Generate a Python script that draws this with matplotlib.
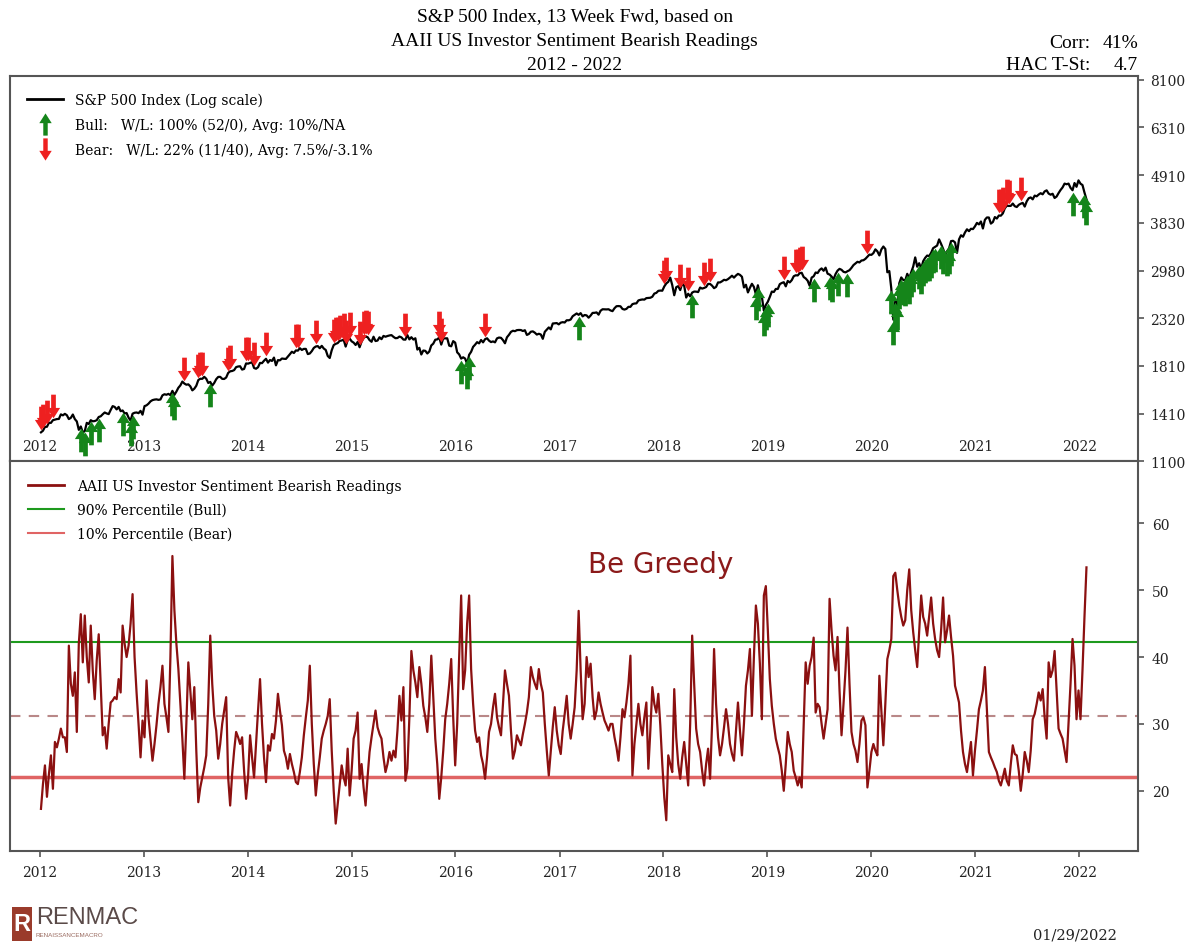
import numpy as np
import pandas as pd
import matplotlib
matplotlib.use('Agg')
import matplotlib.pyplot as plt
from matplotlib.path import Path
from matplotlib.lines import Line2D
from matplotlib.patches import Rectangle
from matplotlib.ticker import NullLocator

# Weekly AAII bearish readings (%), Jan 2012 - Jan 2022
bearish = [
    17.3, 21.0, 23.8, 19.1, 22.5, 25.3, 20.3, 27.3, 26.5, 27.8,
    29.3, 28.0, 28.0, 25.8, 41.7, 36.0, 34.2, 37.7, 28.8, 42.0,
    46.4, 39.2, 46.2, 40.0, 36.2, 44.7, 38.0, 33.7, 39.5, 43.4,
    36.0, 28.3, 29.5, 26.3, 30.0, 33.2, 33.5, 34.0, 33.7, 36.7,
    34.7, 44.7, 42.0, 40.0, 41.7, 45.0, 49.4, 40.0, 34.7, 30.0,
    25.0, 30.5, 28.0, 36.5, 31.0, 27.8, 24.5, 27.0, 29.8, 33.0,
    35.5, 38.7, 33.0, 31.0, 28.8, 40.0, 55.1, 47.0, 42.0, 38.2,
    33.0, 27.8, 21.8, 30.0, 39.2, 35.0, 30.7, 35.5, 26.0, 18.3,
    20.5, 22.0, 23.5, 25.3, 33.0, 43.2, 36.0, 31.2, 29.0, 24.8,
    27.0, 30.0, 32.0, 34.0, 22.0, 17.8, 22.5, 26.0, 28.8, 28.0,
    27.0, 28.0, 23.0, 18.8, 22.0, 28.3, 25.0, 22.0, 27.0, 32.0,
    36.7, 30.0, 25.0, 21.3, 26.8, 26.0, 28.5, 27.8, 30.5, 34.5,
    32.0, 29.8, 26.0, 25.0, 23.3, 25.5, 24.0, 22.8, 21.3, 21.0,
    22.8, 25.0, 28.3, 31.0, 33.5, 38.7, 30.0, 24.0, 19.3, 22.5,
    25.0, 27.8, 29.0, 30.0, 31.2, 33.7, 26.0, 20.0, 15.1, 18.0,
    21.0, 23.8, 22.0, 20.8, 26.3, 19.3, 23.0, 27.8, 29.0, 31.7,
    21.8, 24.0, 20.5, 17.8, 22.0, 25.8, 28.0, 30.0, 32.0, 29.5,
    28.5, 27.8, 25.0, 22.8, 24.0, 25.8, 24.5, 26.0, 25.0, 29.0,
    34.2, 30.5, 35.5, 21.5, 23.3, 31.0, 40.9, 38.0, 36.2, 34.0,
    38.5, 36.0, 32.7, 31.0, 28.8, 33.0, 40.2, 34.0, 27.8, 24.0,
    18.8, 22.0, 26.0, 30.7, 33.0, 36.0, 39.7, 31.0, 23.8, 30.0,
    40.0, 49.2, 35.2, 38.0, 45.0, 49.2, 38.2, 33.0, 29.0, 27.3,
    28.0, 25.3, 24.0, 21.8, 25.0, 28.8, 30.0, 32.5, 34.5, 31.0,
    29.5, 28.3, 33.0, 38.0, 36.0, 34.2, 29.0, 24.8, 26.0, 28.3,
    27.5, 26.8, 28.5, 30.0, 31.7, 34.0, 38.5, 37.0, 36.0, 35.2,
    38.2, 36.0, 34.7, 30.0, 26.0, 22.3, 26.0, 29.5, 32.5, 29.0,
    26.8, 25.5, 29.0, 31.5, 34.2, 30.0, 27.8, 30.0, 32.5, 38.0,
    46.9, 38.0, 30.7, 33.0, 40.0, 37.0, 39.0, 34.0, 30.7, 32.0,
    34.7, 33.0, 31.7, 30.5, 29.8, 29.0, 30.0, 30.0, 28.0, 26.5,
    24.5, 28.0, 32.2, 31.0, 33.2, 36.0, 40.2, 22.3, 27.0, 30.0,
    33.0, 30.0, 28.3, 31.0, 33.2, 23.3, 29.0, 35.5, 33.0, 31.7,
    34.5, 29.8, 24.0, 19.0, 15.6, 25.3, 24.0, 22.8, 35.2, 28.0,
    24.0, 21.8, 25.0, 27.3, 24.0, 20.8, 30.0, 43.2, 36.0, 29.3,
    27.0, 25.8, 23.0, 20.8, 24.0, 26.3, 21.8, 30.0, 41.2, 33.0,
    28.0, 25.3, 27.0, 29.5, 32.2, 30.0, 27.0, 25.5, 24.5, 29.0,
    33.2, 29.0, 25.3, 30.0, 35.7, 38.0, 41.2, 31.2, 40.0, 47.7,
    45.0, 39.0, 30.7, 49.2, 50.6, 44.0, 36.7, 32.7, 30.0, 27.8,
    26.5, 25.3, 23.0, 20.0, 24.0, 28.8, 27.0, 25.8, 23.0, 22.0,
    20.8, 22.0, 20.5, 30.0, 39.2, 36.0, 38.7, 40.0, 42.9, 31.7,
    33.0, 32.5, 30.0, 27.8, 30.0, 32.2, 48.7, 44.0, 40.2, 38.0,
    43.0, 35.0, 28.3, 33.0, 38.0, 44.4, 36.0, 28.8, 27.0, 26.0,
    24.3, 27.0, 30.5, 31.0, 29.8, 20.5, 23.0, 25.8, 27.0, 26.0,
    25.3, 37.2, 32.0, 26.8, 33.0, 39.7, 41.0, 42.7, 52.1, 52.6,
    50.0, 47.7, 46.0, 44.7, 45.5, 50.0, 53.1, 47.0, 43.7, 41.0,
    38.5, 44.0, 49.2, 46.0, 45.0, 43.2, 46.0, 48.9, 45.0, 42.7,
    41.0, 40.0, 44.0, 48.9, 42.2, 44.0, 46.2, 43.0, 40.2, 35.7,
    34.5, 33.2, 29.0, 25.8, 24.0, 22.8, 25.0, 27.3, 22.3, 26.0,
    29.0, 32.2, 33.5, 35.0, 38.5, 32.0, 25.8, 25.0, 24.3, 23.5,
    22.8, 21.5, 20.8, 22.0, 23.3, 21.5, 20.8, 24.0, 26.8, 25.5,
    25.3, 23.0, 20.0, 22.5, 25.8, 24.5, 22.8, 26.0, 30.7, 31.5,
    33.0, 34.7, 33.5, 35.2, 31.0, 27.8, 39.2, 37.0, 38.0, 40.9,
    35.0, 29.3, 28.5, 27.8, 26.0, 24.3, 30.0, 36.0, 42.7, 38.7,
    30.7, 35.0, 30.7, 38.0, 46.0, 53.4,
]

# Weekly S&P 500 level on the same weeks
spx = [
    # 2012
    1278, 1289, 1315, 1316, 1344, 1343, 1362, 1366, 1370, 1371, 1404, 1397, 1408,
    1398, 1370, 1379, 1403, 1370, 1353, 1295, 1318, 1278, 1286, 1343, 1335, 1362,
    1354, 1356, 1362, 1385, 1390, 1405, 1418, 1411, 1406, 1437, 1466, 1460, 1441,
    1460, 1428, 1433, 1411, 1414, 1380, 1359, 1409, 1416, 1418, 1413, 1430, 1402,
    # 2013
    1466, 1472, 1485, 1503, 1513, 1517, 1519, 1515, 1518, 1551, 1560, 1556, 1563,
    1553, 1588, 1555, 1582, 1614, 1634, 1667, 1650, 1640, 1643, 1626, 1592, 1606,
    1631, 1680, 1692, 1691, 1709, 1692, 1655, 1664, 1632, 1655, 1688, 1708, 1709,
    1691, 1690, 1703, 1744, 1759, 1762, 1770, 1798, 1804, 1806, 1775, 1781, 1833,
    # 2014
    1831, 1838, 1845, 1790, 1783, 1797, 1838, 1836, 1859, 1878, 1841, 1866, 1857,
    1890, 1815, 1865, 1863, 1881, 1878, 1877, 1900, 1924, 1949, 1936, 1962, 1960,
    1985, 1967, 1978, 1978, 1925, 1931, 1955, 1988, 2003, 2007, 1985, 2010, 1982,
    1967, 1906, 1886, 1964, 2018, 2031, 2039, 2063, 2067, 2075, 2002, 2070, 2088,
    # 2015
    2058, 2044, 2019, 2051, 1995, 2055, 2096, 2110, 2104, 2071, 2053, 2108, 2061,
    2066, 2102, 2081, 2117, 2108, 2116, 2122, 2126, 2107, 2092, 2094, 2110, 2101,
    2077, 2076, 2126, 2079, 2103, 2077, 2091, 1971, 1989, 1921, 1961, 1958, 1931,
    1951, 2014, 2033, 2075, 2079, 2100, 2023, 2089, 2090, 2091, 2012, 2005, 2060, 2044,
    # 2016
    1943, 1922, 1880, 1893, 1880, 1829, 1918, 1948, 1999, 2022, 2049, 2036, 2072,
    2047, 2081, 2091, 2065, 2050, 2057, 2047, 2090, 2099, 2096, 2071, 2037, 2102,
    2129, 2162, 2175, 2170, 2182, 2184, 2183, 2172, 2181, 2128, 2139, 2164, 2168,
    2153, 2132, 2141, 2133, 2085, 2163, 2187, 2213, 2191, 2259, 2262, 2264, 2249,
    # 2017
    2269, 2275, 2271, 2298, 2297, 2307, 2347, 2364, 2381, 2364, 2385, 2345, 2362,
    2357, 2329, 2355, 2388, 2389, 2394, 2366, 2415, 2434, 2433, 2432, 2434, 2419,
    2410, 2447, 2473, 2475, 2472, 2438, 2430, 2439, 2465, 2465, 2500, 2508, 2510,
    2549, 2557, 2562, 2560, 2580, 2582, 2585, 2599, 2642, 2652, 2680, 2684, 2682,
    # 2018
    2743, 2786, 2810, 2872, 2762, 2619, 2732, 2747, 2691, 2786, 2752, 2588, 2640,
    2604, 2656, 2670, 2669, 2663, 2727, 2712, 2721, 2734, 2779, 2779, 2754, 2718,
    2736, 2801, 2801, 2818, 2840, 2833, 2850, 2874, 2901, 2872, 2904, 2929, 2914,
    2885, 2728, 2767, 2658, 2723, 2781, 2736, 2632, 2760, 2633, 2599, 2416, 2489,
    # 2019
    2532, 2596, 2670, 2664, 2707, 2707, 2776, 2793, 2804, 2744, 2823, 2801, 2834,
    2893, 2908, 2905, 2940, 2946, 2881, 2860, 2826, 2752, 2873, 2892, 2950, 2942,
    2990, 3014, 2977, 3026, 2932, 2919, 2889, 2847, 2926, 2979, 3007, 2992, 2961,
    2952, 2970, 2986, 3023, 3067, 3093, 3120, 3110, 3141, 3146, 3169, 3205, 3240,
    # 2020
    3235, 3265, 3330, 3296, 3226, 3328, 3380, 3337, 2954, 2972, 2711, 2305, 2541,
    2489, 2789, 2875, 2837, 2830, 2930, 2863, 2955, 3044, 3193, 3041, 3097, 3009,
    3130, 3185, 3224, 3215, 3271, 3351, 3373, 3397, 3508, 3427, 3340, 3246, 3298,
    3348, 3477, 3483, 3453, 3270, 3509, 3585, 3557, 3638, 3699, 3663, 3709, 3703, 3756,
    # 2021
    3825, 3795, 3853, 3714, 3887, 3935, 3934, 3811, 3842, 3943, 3913, 3975, 3972,
    4019, 4129, 4185, 4180, 4181, 4233, 4174, 4156, 4204, 4229, 4247, 4166, 4281,
    4352, 4370, 4327, 4412, 4395, 4437, 4468, 4442, 4510, 4535, 4459, 4433, 4455,
    4357, 4391, 4471, 4544, 4605, 4698, 4682, 4698, 4595, 4538, 4712, 4620, 4778,
    # 2022
    4696, 4663, 4483, 4326,
]

start_date = '2012-01-05'
bull_level = 42.3   # 90% percentile
bear_level = 22.1   # 10% percentile
avg_level = 31.2
price_ticks = [1100, 1410, 1810, 2320, 2980, 3830, 4910, 6310, 8100]
sent_ticks = [20, 30, 40, 50, 60]
years = list(range(2012, 2023))

assert len(bearish) == len(spx), (len(bearish), len(spx))
dates = pd.date_range(start_date, periods=len(bearish), freq='7D')
bearish = np.array(bearish)
spx = np.array(spx, dtype=float)
bull = bearish > bull_level
bear = bearish < bear_level

plt.rcParams['font.family'] = 'DejaVu Serif'

# arrow shaped markers
up_verts = [(-0.1, -0.5), (0.1, -0.5), (0.1, 0.06), (0.28, 0.06), (0, 0.5),
            (-0.28, 0.06), (-0.1, 0.06), (0, 0)]
up_arrow = Path(up_verts, closed=True)
down_arrow = Path([(x, -y) for x, y in up_verts], closed=True)

title_font = 'Liberation Serif'
spine_col = '#555555'
green = '#15851a'
red = '#ee2020'

fig = plt.figure(figsize=(12, 9.45), dpi=100)
ax1 = fig.add_axes([0.0083, 0.5111, 0.94, 0.4074])
ax2 = fig.add_axes([0.0083, 0.0984, 0.94, 0.4127])

x0 = pd.Timestamp('2011-09-18')
x1 = pd.Timestamp('2022-07-27')
year_ticks = [pd.Timestamp(f'{y}-01-01') for y in years]

# top panel: S&P 500 with signals
ax1.plot(dates, spx, color='black', lw=1.6, zorder=2)
ax1.scatter(dates[bull], spx[bull] / 1.072, marker=up_arrow, s=290,
            color=green, linewidths=0, zorder=3)
ax1.scatter(dates[bear], spx[bear] * 1.078, marker=down_arrow, s=290,
            color=red, linewidths=0, zorder=3)
ax1.set_yscale('log')
ax1.set_ylim(1100, 8250)
ax1.yaxis.tick_right()
ax1.set_yticks(price_ticks)
ax1.set_yticklabels([str(v) for v in price_ticks])
ax1.yaxis.set_minor_locator(NullLocator())
ax1.set_xlim(x0, x1)
ax1.set_xticks(year_ticks)
ax1.set_xticklabels([str(y) for y in years])
ax1.tick_params(axis='x', direction='out', length=4, width=1.2, pad=-20,
                colors=spine_col, labelcolor='#222222', labelsize=10)
ax1.tick_params(axis='y', direction='out', length=4, width=1.2, pad=5,
                colors=spine_col, labelcolor='#222222', labelsize=10)

h1 = [Line2D([], [], color='black', lw=2),
      Line2D([], [], marker=up_arrow, color=green, ls='none', markersize=16, markeredgewidth=0),
      Line2D([], [], marker=down_arrow, color=red, ls='none', markersize=16, markeredgewidth=0)]
l1 = ['S&P 500 Index (Log scale)',
      'Bull:   W/L: 100% (52/0), Avg: 10%/NA',
      'Bear:   W/L: 22% (11/40), Avg: 7.5%/-3.1%']
ax1.legend(h1, l1, loc='upper left', frameon=False, handlelength=2.6,
           handletextpad=0.9, labelspacing=0.75, borderaxespad=0.8,
           prop={'size': 10})

# bottom panel: bearish readings
ax2.plot(dates, bearish, color='#8b1010', lw=1.6, zorder=3)
ax2.axhline(bull_level, color='#1e9a1e', lw=1.5, zorder=2)
ax2.axhline(bear_level, color='#e06464', lw=2.5, zorder=2)
ax2.axhline(avg_level, color='#b98888', lw=1.5, ls=(0, (5, 4)), zorder=2)
ax2.set_ylim(11, 69.3)
ax2.yaxis.tick_right()
ax2.set_yticks(sent_ticks)
ax2.set_yticklabels([str(v) for v in sent_ticks])
ax2.set_xlim(x0, x1)
ax2.set_xticks(year_ticks)
ax2.set_xticklabels([str(y) for y in years])
ax2.tick_params(axis='both', direction='out', length=4, width=1.2, pad=6,
                colors=spine_col, labelcolor='#222222', labelsize=10)

h2 = [Line2D([], [], color='#8b1010', lw=2),
      Line2D([], [], color='#1e9a1e', lw=1.5),
      Line2D([], [], color='#e06464', lw=1.5)]
l2 = ['AAII US Investor Sentiment Bearish Readings',
      '90% Percentile (Bull)',
      '10% Percentile (Bear)']
ax2.legend(h2, l2, loc='upper left', frameon=False, handlelength=2.6,
           handletextpad=0.9, labelspacing=0.7, borderaxespad=0.9,
           prop={'size': 10})

ax2.text(0.577, 0.737, 'Be Greedy', transform=ax2.transAxes, ha='center',
         va='center', fontsize=20, color='#8b1a1a', family='DejaVu Sans')

for ax in (ax1, ax2):
    for s in ax.spines.values():
        s.set_color(spine_col)
        s.set_linewidth(1.5)

# titles and stats
fig.text(0.479, 0.982, 'S&P 500 Index, 13 Week Fwd, based on', ha='center',
         va='center', family=title_font, fontsize=14)
fig.text(0.479, 0.956, 'AAII US Investor Sentiment Bearish Readings', ha='center',
         va='center', family=title_font, fontsize=14)
fig.text(0.479, 0.931, '2012 - 2022', ha='center', va='center',
         family=title_font, fontsize=14)
fig.text(1090 / 1200, 1 - 43 / 945, 'Corr:', ha='right', va='center',
         family=title_font, fontsize=14)
fig.text(1138 / 1200, 1 - 43 / 945, '41%', ha='right', va='center',
         family=title_font, fontsize=14)
fig.text(1090 / 1200, 1 - 65 / 945, 'HAC T-St:', ha='right', va='center',
         family=title_font, fontsize=14)
fig.text(1138 / 1200, 1 - 65 / 945, '4.7', ha='right', va='center',
         family=title_font, fontsize=14)

# footer: logo and date
fig.patches.append(Rectangle((12 / 1200, 1 - 942 / 945), 20 / 1200, 34 / 945,
                             transform=fig.transFigure, facecolor='#9a3b2b',
                             edgecolor='none'))
fig.text(22 / 1200, 1 - 925 / 945, 'R', ha='center', va='center', color='white',
         family='Liberation Sans', fontsize=17, fontweight='bold')
fig.text(36 / 1200, 1 - 918 / 945, 'RENMAC', ha='left', va='center',
         color='#5a4a48', family='Liberation Sans', fontsize=17)
fig.text(36 / 1200, 1 - 936 / 945, 'RENAISSANCEMACRO', ha='left', va='center',
         color='#9a6b60', family='Liberation Sans', fontsize=4.5)
fig.text(1075 / 1200, 1 - 936 / 945, '01/29/2022', ha='center', va='center',
         fontsize=10.5, color='#222222')

fig.savefig('out.png', dpi=100)
